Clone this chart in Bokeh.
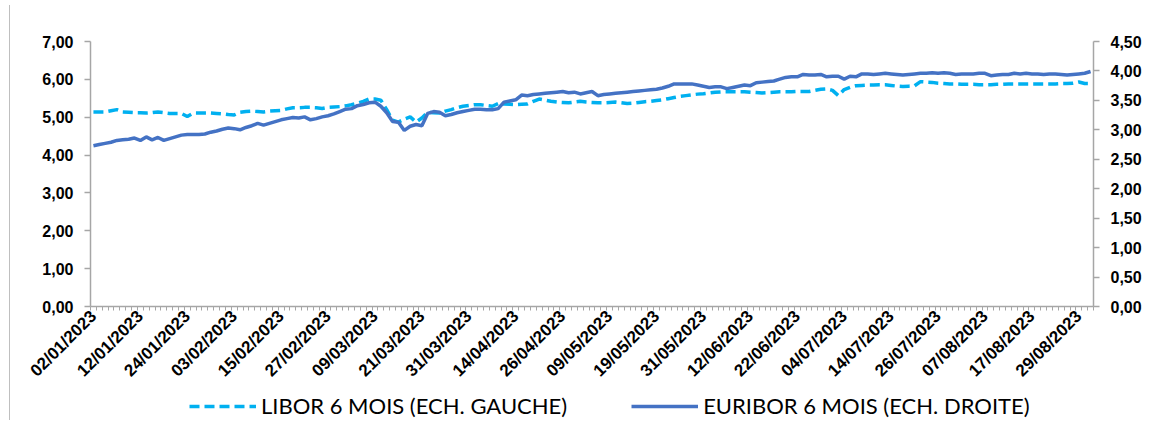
import pandas as pd
from bokeh.plotting import figure
from bokeh.layouts import row, column
from bokeh.models import Range1d, LinearAxis, FixedTicker, Legend, LegendItem, Div
from bokeh.embed import file_html
from bokeh.resources import INLINE

# ---------------- data ----------------
holidays = ["2023-04-07", "2023-04-10", "2023-05-01"]
dates = [d.strftime("%d/%m/%Y") for d in pd.bdate_range("2023-01-02", "2023-08-31")
         if d.strftime("%Y-%m-%d") not in holidays]

tick_labels = ["02/01/2023", "12/01/2023", "24/01/2023", "03/02/2023", "15/02/2023",
               "27/02/2023", "09/03/2023", "21/03/2023", "31/03/2023", "14/04/2023",
               "26/04/2023", "09/05/2023", "19/05/2023", "31/05/2023", "12/06/2023",
               "22/06/2023", "04/07/2023", "14/07/2023", "26/07/2023", "07/08/2023",
               "17/08/2023", "29/08/2023"]

left_ticks = [0, 1, 2, 3, 4, 5, 6, 7]
left_labels = ["0,00", "1,00", "2,00", "3,00", "4,00", "5,00", "6,00", "7,00"]
right_ticks = [0, 0.5, 1, 1.5, 2, 2.5, 3, 3.5, 4, 4.5]
right_labels = ["0,00", "0,50", "1,00", "1,50", "2,00", "2,50", "3,00", "3,50", "4,00", "4,50"]

libor = [
    5.14, 5.14, 5.14, 5.17, 5.20, 5.14, 5.13, 5.12, 5.12, 5.11,
    5.12, 5.14, 5.12, 5.10, 5.10, 5.10, 5.02, 5.11, 5.11, 5.11,
    5.11, 5.10, 5.09, 5.07, 5.06, 5.13, 5.15, 5.16, 5.15, 5.14,
    5.16, 5.17, 5.18, 5.22, 5.25, 5.25, 5.26, 5.26, 5.25, 5.23,
    5.26, 5.27, 5.28, 5.30, 5.33, 5.37, 5.42, 5.48, 5.48, 5.45,
    5.20, 4.92, 4.87, 4.95, 5.01, 4.87, 4.98, 5.13, 5.12, 5.11,
    5.16, 5.20, 5.25, 5.29, 5.31, 5.33, 5.33, 5.31, 5.29, 5.36,
    5.35, 5.34, 5.33, 5.34, 5.35, 5.42, 5.48, 5.45, 5.42, 5.40,
    5.39, 5.38, 5.40, 5.42, 5.40, 5.39, 5.38, 5.38, 5.39, 5.40,
    5.38, 5.36, 5.37, 5.39, 5.41, 5.42, 5.44, 5.46, 5.49, 5.52,
    5.55, 5.57, 5.59, 5.61, 5.62, 5.64, 5.66, 5.67, 5.67, 5.67,
    5.67, 5.67, 5.66, 5.65, 5.64, 5.65, 5.66, 5.67, 5.67, 5.67,
    5.68, 5.68, 5.68, 5.71, 5.74, 5.75, 5.71, 5.57, 5.73, 5.79,
    5.83, 5.84, 5.85, 5.85, 5.86, 5.86, 5.84, 5.82, 5.81, 5.82,
    5.83, 5.94, 5.93, 5.92, 5.90, 5.89, 5.88, 5.88, 5.87, 5.87,
    5.87, 5.86, 5.86, 5.86, 5.87, 5.87, 5.88, 5.88, 5.88, 5.88,
    5.88, 5.88, 5.88, 5.88, 5.88, 5.89, 5.89, 5.90, 5.93, 5.89,
    5.89,
]

euribor = [
    2.73, 2.75, 2.77, 2.79, 2.82, 2.83, 2.84, 2.86, 2.82, 2.88,
    2.83, 2.87, 2.82, 2.85, 2.88, 2.91, 2.92, 2.92, 2.92, 2.93,
    2.96, 2.98, 3.01, 3.03, 3.02, 3.00, 3.04, 3.07, 3.11, 3.08,
    3.11, 3.14, 3.17, 3.19, 3.21, 3.20, 3.22, 3.17, 3.19, 3.22,
    3.24, 3.27, 3.31, 3.35, 3.36, 3.41, 3.43, 3.46, 3.47, 3.40,
    3.29, 3.14, 3.13, 2.99, 3.06, 3.09, 3.07, 3.28, 3.31, 3.30,
    3.24, 3.26, 3.29, 3.31, 3.33, 3.35, 3.35, 3.34, 3.34, 3.36,
    3.47, 3.49, 3.51, 3.59, 3.58, 3.60, 3.61, 3.62, 3.63, 3.64,
    3.65, 3.63, 3.64, 3.61, 3.63, 3.65, 3.58, 3.60, 3.61, 3.62,
    3.63, 3.64, 3.65, 3.66, 3.67, 3.68, 3.69, 3.71, 3.74, 3.78,
    3.78, 3.78, 3.78, 3.76, 3.74, 3.72, 3.73, 3.73, 3.70, 3.72,
    3.74, 3.76, 3.75, 3.80, 3.81, 3.82, 3.83, 3.86, 3.89, 3.90,
    3.90, 3.94, 3.93, 3.93, 3.94, 3.90, 3.91, 3.91, 3.86, 3.91,
    3.90, 3.95, 3.95, 3.94, 3.95, 3.96, 3.95, 3.94, 3.93, 3.94,
    3.95, 3.96, 3.96, 3.97, 3.96, 3.97, 3.96, 3.94, 3.95, 3.95,
    3.95, 3.96, 3.96, 3.92, 3.93, 3.94, 3.94, 3.96, 3.95, 3.96,
    3.95, 3.95, 3.94, 3.95, 3.95, 3.94, 3.93, 3.94, 3.95, 3.96,
    3.99,
]

series_names = ["LIBOR 6 MOIS (ECH. GAUCHE)", "EURIBOR 6 MOIS (ECH. DROITE)"]

# ---------------- styles ----------------
n = len(dates)
x = list(range(n))
AX = "#a6a6a6"
TICK_FONT = "Liberation Sans"
LIBOR_STYLE = dict(line_color="#00B0F0", line_width=3.5, line_dash="10 5")
EURIBOR_STYLE = dict(line_color="#4472C4", line_width=3.5)

# ---------------- main chart ----------------
p = figure(frame_width=1003, frame_height=265,
           x_range=Range1d(-0.5, n - 0.5), y_range=Range1d(0, 7),
           output_backend="svg", toolbar_location=None,
           min_border_left=75, min_border_right=0, min_border_top=41, min_border_bottom=80)
p.extra_y_ranges = {"right": Range1d(0, 4.5)}
p.xgrid.visible = False
p.ygrid.visible = False
p.outline_line_color = None
p.background_fill_color = "white"
p.border_fill_color = "white"


def style_axis(ax):
    ax.axis_line_color = AX
    ax.axis_line_width = 1.5
    ax.major_tick_line_color = AX
    ax.major_tick_line_width = 1.5
    ax.major_tick_in = 0
    ax.major_tick_out = 6
    ax.minor_tick_line_color = None
    ax.major_label_text_font = TICK_FONT
    ax.major_label_text_font_style = "bold"
    ax.major_label_text_font_size = "16px"
    ax.major_label_text_color = "black"
    ax.major_label_standoff = 11


yl = p.yaxis[0]
yl.ticker = FixedTicker(ticks=left_ticks)
yl.major_label_overrides = dict(zip(left_ticks, left_labels))
style_axis(yl)

yr = LinearAxis(y_range_name="right", ticker=FixedTicker(ticks=right_ticks),
                major_label_overrides=dict(zip(right_ticks, right_labels)))
style_axis(yr)
p.add_layout(yr, "right")

label_pos = [dates.index(t) for t in tick_labels]
xa = p.xaxis[0]
xa.ticker = FixedTicker(ticks=label_pos, minor_ticks=[i - 0.5 for i in range(n + 1)])
xa.major_label_overrides = dict(zip(label_pos, tick_labels))
style_axis(xa)
xa.major_tick_line_color = None
xa.major_tick_out = 4
xa.minor_tick_line_color = AX
xa.minor_tick_line_width = 1
xa.minor_tick_in = 0
xa.minor_tick_out = 4
xa.major_label_orientation = 0.785398
xa.major_label_standoff = 3
xa.major_label_text_font_size = "17px"

p.line(x, libor, **LIBOR_STYLE)
p.line(x, euribor, y_range_name="right", **EURIBOR_STYLE)

# ---------------- legend strip ----------------
lg = figure(width=1150, height=29, x_range=Range1d(0, 1), y_range=Range1d(0, 1),
            output_backend="svg", toolbar_location=None,
            min_border_left=0, min_border_right=0, min_border_top=0, min_border_bottom=0)
lg.axis.visible = False
lg.xgrid.visible = False
lg.ygrid.visible = False
lg.outline_line_color = None
lg1 = lg.line([-1, -2], [-1, -2], **LIBOR_STYLE)
lg2 = lg.line([-1, -2], [-1, -2], **EURIBOR_STYLE)
legend = Legend(items=[LegendItem(label=series_names[0], renderers=[lg1]),
                       LegendItem(label=series_names[1], renderers=[lg2])],
                orientation="horizontal", location=(99, 0),
                border_line_color=None, background_fill_alpha=0,
                label_text_font="Lato", label_text_font_size="22px",
                label_text_color="black",
                glyph_width=67, glyph_height=22, label_standoff=5, spacing=64,
                padding=0, margin=0)
lg.add_layout(legend)

edge = Div(text="", width=5, height=415,
           styles={"border-right": "1px solid #bfbfbf", "box-sizing": "border-box"})

layout = row(edge, column(p, lg, spacing=0), spacing=0)

open("out.html", "w").write(file_html(layout, INLINE))
